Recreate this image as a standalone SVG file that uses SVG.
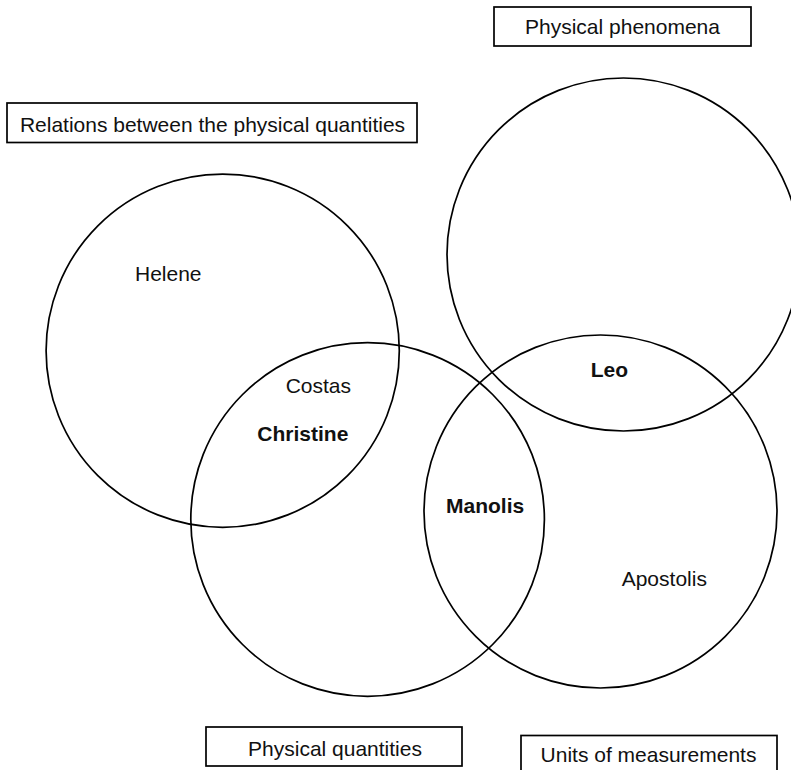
<svg xmlns="http://www.w3.org/2000/svg" width="791" height="770" viewBox="0 0 791 770">
<style>
.c{fill:none;stroke:#000;stroke-width:1.7}
.b{fill:#fff;stroke:#000;stroke-width:1.7}
text{font-family:"Liberation Sans",Arial,sans-serif;font-size:21px;fill:#111}
.m{text-anchor:middle}
.bold{font-weight:bold}
</style>
<rect width="791" height="770" fill="#fff"/>
<g id="set-relations">
<circle class="c" cx="222.7" cy="350.7" r="176.6"/>
</g>
<g id="set-quantities">
<circle class="c" cx="367.6" cy="519.5" r="176.8"/>
</g>
<g id="set-units">
<circle class="c" cx="600.5" cy="511.5" r="176.5"/>
</g>
<g id="set-phenomena">
<circle class="c" cx="623.5" cy="254.5" r="176.5"/>
</g>
<g id="label-relations">
<rect class="b" x="7" y="103" width="410" height="39.5"/>
<text class="m" x="212.5" y="131.5">Relations between the physical quantities</text>
</g>
<g id="label-phenomena">
<rect class="b" x="494" y="7" width="257" height="39"/>
<text class="m" x="622.5" y="34.3">Physical phenomena</text>
</g>
<g id="label-quantities">
<rect class="b" x="206" y="727" width="256" height="39"/>
<text class="m" x="335" y="756">Physical quantities</text>
</g>
<g id="label-units">
<rect class="b" x="521" y="735.5" width="256" height="45"/>
<text class="m" x="648.5" y="761.5">Units of measurements</text>
</g>
<g id="names">
<text x="135" y="281">Helene</text>
<text x="285.7" y="392.7">Costas</text>
<text class="bold" x="257.3" y="440.7">Christine</text>
<text class="bold" x="590.7" y="377">Leo</text>
<text class="bold" x="446" y="513">Manolis</text>
<text x="621.7" y="586">Apostolis</text>
</g>
<g id="connectors"></g>
</svg>
